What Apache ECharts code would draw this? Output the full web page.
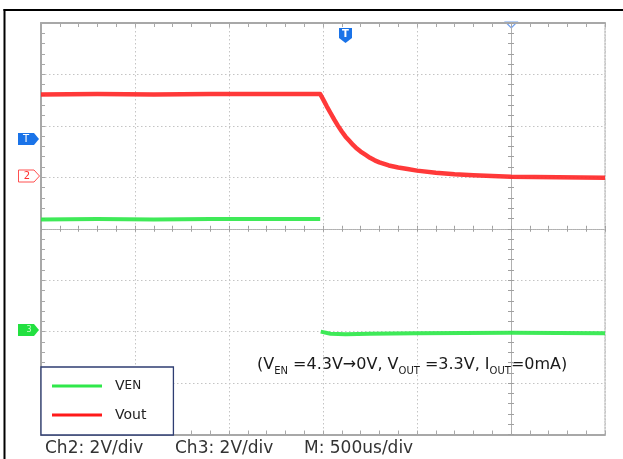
<!DOCTYPE html>
<html>
<head>
<meta charset="utf-8">
<script src="https://cdn.jsdelivr.net/npm/echarts@6/dist/echarts.min.js"></script>
<style>
  html, body { margin: 0; padding: 0; background: #fff; }
  #main { width: 623px; height: 459px; }
</style>
</head>
<body>
<div id="main"></div>
<script>
// time in us (500us/div), level in divisions (0 = bottom of screen)
var voutTime = [0, 300, 600, 900, 1200, 1485, 1500, 1520, 1540, 1560, 1580, 1600, 1620, 1640, 1660, 1680, 1700, 1725, 1750, 1775, 1800, 1850, 1900, 1950, 2000, 2100, 2200, 2300, 2500, 2750, 3000];
var voutDiv  = [6.61, 6.62, 6.61, 6.62, 6.62, 6.62, 6.52, 6.38, 6.25, 6.12, 6.00, 5.89, 5.79, 5.71, 5.63, 5.56, 5.50, 5.44, 5.38, 5.33, 5.29, 5.23, 5.19, 5.16, 5.13, 5.09, 5.06, 5.04, 5.01, 5.00, 4.99];

var venTime = [0, 300, 600, 900, 1200, 1485, 1486, 1488, 1540, 1620, 1750, 2000, 2500, 3000];
var venDiv  = [4.18, 4.19, 4.18, 4.19, 4.19, 4.19, null, 2.00, 1.96, 1.95, 1.96, 1.97, 1.98, 1.97];

var xTicks = { min: 0, max: 3000, interval: 500 };
var yTicks = { min: 0, max: 8, interval: 1 };

function pairs(xs, ys) {
    return xs.map(function (x, i) { return [x, ys[i]]; });
}

var gridGray = '#c4c4c4';
var axisGray = '#a8a8a8';

function xAxisCfg(pos, opts) {
    var a = {
        type: 'value', min: xTicks.min, max: xTicks.max, interval: xTicks.interval,
        position: pos,
        axisLine: { show: true, onZero: false, lineStyle: { color: axisGray, width: 2 } },
        axisTick: { show: true, inside: true, length: 4, lineStyle: { color: axisGray } },
        minorTick: { show: true, splitNumber: 5, length: 4, lineStyle: { color: axisGray } },
        axisLabel: { show: false },
        splitLine: { show: false }
    };
    return Object.assign(a, opts || {});
}
function yAxisCfg(pos, opts) {
    var a = {
        type: 'value', min: yTicks.min, max: yTicks.max, interval: yTicks.interval,
        position: pos,
        axisLine: { show: true, onZero: false, lineStyle: { color: axisGray, width: 2 } },
        axisTick: { show: true, inside: true, length: 4, lineStyle: { color: axisGray } },
        minorTick: { show: true, splitNumber: 5, length: 4, lineStyle: { color: axisGray } },
        axisLabel: { show: false },
        splitLine: { show: false }
    };
    return Object.assign(a, opts || {});
}

var centerLine = { show: true, onZero: false, lineStyle: { color: '#b0b0b0', width: 1, type: 'dotted' } };
var dotted = { show: true, lineStyle: { color: gridGray, width: 1, type: [1.5, 2.5] } };
var ctrTick = { color: '#a0a0a0' };

var chart = echarts.init(document.getElementById('main'));
var option = {
    backgroundColor: '#fff',
    animation: false,
    grid: { left: 41, right: 18, top: 23, bottom: 24.5, containLabel: false },
    xAxis: [
        xAxisCfg('bottom', { splitLine: dotted }),
        xAxisCfg('top'),
        // centre crosshair, ticks both sides
        xAxisCfg('bottom', { offset: -205.75, axisLine: centerLine,
            axisTick: { show: true, inside: true, length: 3, lineStyle: ctrTick },
            minorTick: { show: true, splitNumber: 5, length: 3, lineStyle: ctrTick } }),
        xAxisCfg('bottom', { offset: -205.75, axisLine: centerLine,
            axisTick: { show: true, inside: false, length: 3, lineStyle: ctrTick },
            minorTick: { show: true, splitNumber: 5, length: 3, lineStyle: ctrTick } })
    ],
    yAxis: [
        yAxisCfg('left', { splitLine: dotted }),
        yAxisCfg('right', { axisLine: { show: true, onZero: false, lineStyle: { color: gridGray, width: 1.5, type: [1.5, 1.5] } },
            axisTick: { show: false }, minorTick: { show: false } }),
        yAxisCfg('left', { offset: -470, axisLine: centerLine,
            axisTick: { show: true, inside: true, length: 3, lineStyle: ctrTick },
            minorTick: { show: true, splitNumber: 5, length: 3, lineStyle: ctrTick } }),
        yAxisCfg('left', { offset: -470, axisLine: centerLine,
            axisTick: { show: true, inside: false, length: 3, lineStyle: ctrTick },
            minorTick: { show: true, splitNumber: 5, length: 3, lineStyle: ctrTick } })
    ],
    legend: {
        left: 41, top: 367,
        orient: 'vertical',
        data: ['VEN', 'Vout'],
        icon: 'rect',
        itemWidth: 50, itemHeight: 3,
        itemGap: 15,
        padding: [12, 27, 13, 11],
        backgroundColor: '#fff',
        borderColor: '#2e3d72',
        borderWidth: 1.3,
        borderRadius: 0,
        selectedMode: false,
        formatter: function (name) {
            return name === 'VEN' ? '{a|V}{b|EN}' : '{a|Vout}';
        },
        textStyle: {
            color: '#222',
            fontFamily: 'DejaVu Sans',
            fontSize: 14,
            padding: [0, 0, 0, 8],
            rich: {
                a: { fontFamily: 'DejaVu Sans', fontSize: 14, lineHeight: 16, color: '#222' },
                b: { fontFamily: 'DejaVu Sans', fontSize: 12, lineHeight: 16, color: '#222' }
            }
        }
    },
    series: [
        {
            name: 'Vout', type: 'line', xAxisIndex: 0, yAxisIndex: 0,
            data: pairs(voutTime, voutDiv),
            smooth: false, showSymbol: false, symbol: 'none',
            color: '#ff2828',
            lineStyle: { color: '#ff2828', width: 4.5, opacity: 0.92, join: 'round' },
            itemStyle: { color: '#ff1a1a' },
            z: 3
        },
        {
            name: 'VEN', type: 'line', xAxisIndex: 0, yAxisIndex: 0,
            data: pairs(venTime, venDiv),
            connectNulls: false, showSymbol: false, symbol: 'none',
            smooth: false,
            color: '#2fe84a',
            lineStyle: { color: '#2fe84a', width: 4, opacity: 0.92, join: 'round' },
            itemStyle: { color: '#2fe84a' },
            z: 3
        }
    ],
    graphic: [
        // outer frame (top and left)
        { type: 'line', shape: { x1: 3.5, y1: 10, x2: 623, y2: 10 }, style: { stroke: '#000', lineWidth: 2 } },
        { type: 'line', shape: { x1: 4.5, y1: 9, x2: 4.5, y2: 459 }, style: { stroke: '#000', lineWidth: 2 } },
        // trigger level marker
        { type: 'polygon', shape: { points: [[18, 133], [34, 133], [39, 139], [34, 145], [18, 145]] }, style: { fill: '#1a73e8' } },
        { type: 'text', x: 26, y: 139, style: { text: 'T', fill: '#fff', font: '10px "DejaVu Sans"', align: 'center', verticalAlign: 'middle' } },
        // ch2 ground marker
        { type: 'polygon', shape: { points: [[18.5, 170], [34, 170], [39.5, 176], [34, 182], [18.5, 182]] }, style: { fill: '#fff', stroke: '#ff5050', lineWidth: 1 } },
        { type: 'text', x: 27, y: 176, style: { text: '2', fill: '#ff3030', font: '10px "DejaVu Sans"', align: 'center', verticalAlign: 'middle' } },
        // ch3 ground marker
        { type: 'polygon', shape: { points: [[18, 324], [34, 324], [39, 330], [34, 336], [18, 336]] }, style: { fill: '#22e040' } },
        { type: 'text', x: 29, y: 330, style: { text: '3', fill: '#c8ffc8', font: '8px "DejaVu Sans"', align: 'center', verticalAlign: 'middle' } },
        // trigger position marker
        { type: 'polygon', shape: { points: [[339, 28], [352, 28], [352, 38], [345.5, 43], [339, 38]] }, style: { fill: '#1a73e8' } },
        { type: 'text', x: 345.5, y: 34.5, style: { text: 'T', fill: '#fff', font: 'bold 10px "DejaVu Sans"', align: 'center', verticalAlign: 'middle' } },
        { type: 'polygon', shape: { points: [[505.5, 22], [517, 22], [511.3, 28]] }, style: { fill: '#fff', stroke: '#6f9ff0', lineWidth: 1.2 } },
        // annotation
        {
            type: 'text', x: 257, y: 365,
            style: {
                text: '{n|(V}{s|EN}{n| =4.3V\u21920V, V}{s|OUT}{n| =3.3V, I}{s|OUT}{n|=0mA)}',
                verticalAlign: 'middle',
                rich: {
                    n: { fontFamily: 'DejaVu Sans', fontSize: 16, lineHeight: 22, fill: '#1a1a1a', verticalAlign: 'middle' },
                    s: { fontFamily: 'DejaVu Sans', fontSize: 10, lineHeight: 12, fill: '#1a1a1a', verticalAlign: 'bottom' }
                }
            }
        },
        // scale readouts
        { type: 'text', x: 45, y: 449, style: { text: 'Ch2: 2V/div', fill: '#333', font: '17px "DejaVu Sans"', verticalAlign: 'middle' } },
        { type: 'text', x: 175, y: 449, style: { text: 'Ch3: 2V/div', fill: '#333', font: '17px "DejaVu Sans"', verticalAlign: 'middle' } },
        { type: 'text', x: 304, y: 449, style: { text: 'M: 500us/div', fill: '#333', font: '17px "DejaVu Sans"', verticalAlign: 'middle' } }
    ]
};
chart.setOption(option);
</script>
</body>
</html>
